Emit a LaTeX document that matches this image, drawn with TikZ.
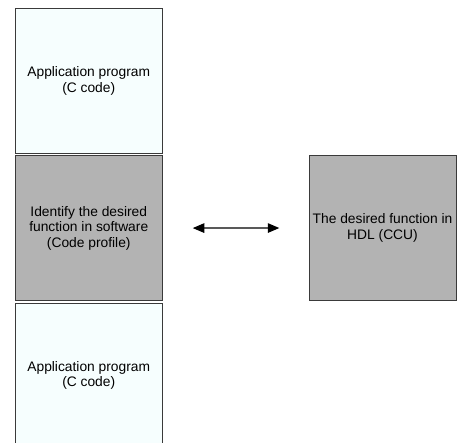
\documentclass[tikz,border=0pt]{standalone}
\usepackage{fontspec}
\setmainfont{Liberation Sans}
\usepackage{tikz}
\usetikzlibrary{arrows.meta, positioning}
\definecolor{codefill}{HTML}{F6FEFE}
\definecolor{hwfill}{HTML}{B3B3B3}
\definecolor{edge}{HTML}{3A3A3A}
\tikzset{
	block/.style={draw=edge, line width=0.9pt, minimum width=147pt, minimum height=145pt,
		inner sep=0pt, outer sep=0pt, align=center, font=\fontsize{13.8}{15.6}\selectfont},
	swbox/.style={block, fill=codefill},
	hwbox/.style={block, fill=hwfill}
}
\newcommand{\appText}{Application program\\(C code)}

\begin{document}
\begin{tikzpicture}[x=1pt, y=-1pt]
				\useasboundingbox (0,0) rectangle (460,443);
				% Software side
				\node[swbox] (app1) at (88.75,80.7) {\appText};
				\node[hwbox, below=2.4pt of app1] (profile) {Identify the desired\\function in software\\(Code profile)};
				\node[swbox, below=2.4pt of profile] (app2) {\appText};
				% Hardware side
				\node[hwbox] (hdl) at (382.5,228) {The desired function in\\HDL (CCU)};
				\draw[{Triangle[length=11.5pt,width=9.5pt]}-{Triangle[length=11.5pt,width=9.5pt]}, line width=1.2pt,
					shorten <=30.5pt, shorten >=29.7pt] (profile) -- (hdl);
			\end{tikzpicture}
\end{document}
